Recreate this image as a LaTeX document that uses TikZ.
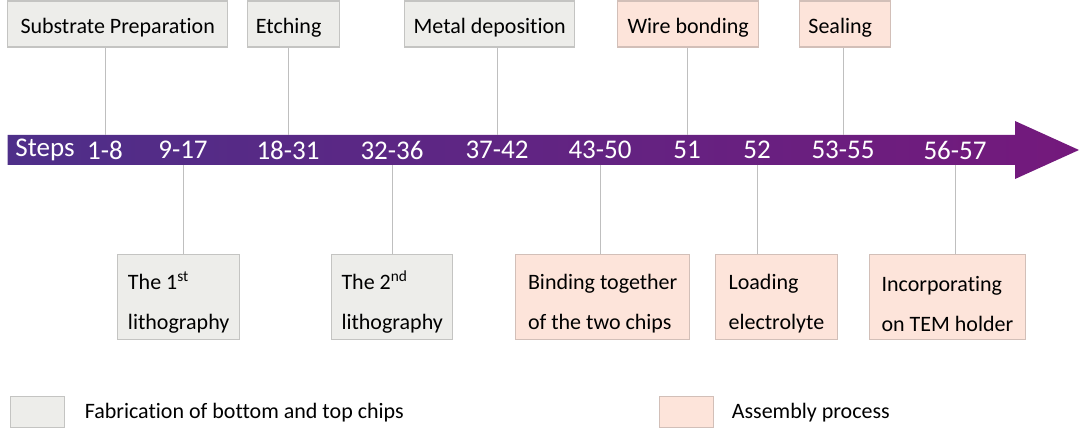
\documentclass[tikz,border=0pt]{standalone}
\usepackage{fontspec}
\setmainfont{Carlito}[Ligatures=CommonOff]
\usetikzlibrary{positioning,calc}
\definecolor{fabfill}{HTML}{EDEDEA}
\definecolor{fabline}{HTML}{C4C4C2}
\definecolor{asmfill}{HTML}{FDE4DA}
\definecolor{asmline}{HTML}{D2BFB8}
\definecolor{tickgray}{HTML}{BFBFBF}
\definecolor{barleft}{HTML}{4E2F89}
\definecolor{barright}{HTML}{74197C}
\newcommand{\boxlift}[1]{\rule{0pt}{#1}}

\begin{document}
\begin{tikzpicture}[x=0.5pt,y=-0.5pt,
  box/.style={draw,line width=0.7pt,anchor=north west,align=left,inner sep=0pt,font=\fontsize{11}{20}\selectfont},
  fab/.style={box,fill=fabfill,draw=fabline},
  asm/.style={box,fill=asmfill,draw=asmline},
  oneline/.style={minimum height=23pt},
  twoline/.style={minimum height=42.5pt},
  num/.style={text=white,inner sep=0pt,font=\fontsize{13.5}{15}\selectfont},
  tick/.style={draw=tickgray,line width=0.5pt}]
\useasboundingbox (0,0) rectangle (1080,438);

% Timeline arrow
\shade[left color=barleft,right color=barright] (7.5,135) -- (1015,135) -- (1015,121) -- (1079,150) -- (1015,179) -- (1015,165) -- (7.5,165) -- cycle;
\coordinate (bartop) at (0,135);
\coordinate (barbot) at (0,165);

\node[num] (steps) at (45,150) {Steps};
\node[num] (s1) at (105,150) {1-8};
\node[num] (s9) at (183,150) {9-17};
\node[num] (s18) at (288,150) {18-31};
\node[num] (s32) at (392,150) {32-36};
\node[num] (s37) at (497,150) {37-42};
\node[num] (s43) at (600,150) {43-50};
\node[num] (s51) at (687,150) {51};
\node[num] (s52) at (757,150) {52};
\node[num] (s53) at (843,150) {53-55};
\node[num] (s56) at (955,150) {56-57};

% Top boxes
\node[fab,oneline,minimum width=110pt] (sub) at (7,0.5) {\boxlift{11pt}Substrate Preparation};
\node[fab,oneline,minimum width=46pt] (etch) at (247,0.5) {\boxlift{11pt}Etching\hspace{5pt}};
\node[fab,oneline,minimum width=85pt] (metal) at (404,0.5) {\boxlift{11pt}Metal deposition};
\node[asm,oneline,minimum width=70.5pt] (wire) at (617,0.5) {\boxlift{11pt}Wire bonding};
\node[asm,oneline,minimum width=45.5pt] (seal) at (799,0.5) {\boxlift{11pt}Sealing\hspace{5pt}};

% Bottom boxes
\node[fab,twoline,minimum width=61pt] (lit1) at (117,254) {\boxlift{14pt}The 1\textsuperscript{st}\\lithography};
\node[fab,twoline,minimum width=60.5pt] (lit2) at (331,254) {\boxlift{14pt}The 2\textsuperscript{nd}\\lithography};
\node[asm,twoline,minimum width=87pt] (bind) at (515,254) {\boxlift{14pt}Binding together\\of the two chips};
\node[asm,twoline,minimum width=60.75pt] (load) at (715,254) {\boxlift{14pt}Loading\hspace{12pt}\\electrolyte};
\node[asm,twoline,minimum width=77.75pt] (incorp) at (869,254) {\boxlift{14pt}Incorporating\\on TEM holder};

% Connectors
\draw[tick] (s1 |- sub.south) -- (s1 |- bartop);
\draw[tick] (s18 |- etch.south) -- (s18 |- bartop);
\draw[tick] (s37 |- metal.south) -- (s37 |- bartop);
\draw[tick] (s51 |- wire.south) -- (s51 |- bartop);
\draw[tick] (s53 |- seal.south) -- (s53 |- bartop);
\draw[tick] (s9 |- barbot) -- (s9 |- lit1.north);
\draw[tick] (s32 |- barbot) -- (s32 |- lit2.north);
\draw[tick] (s43 |- barbot) -- (s43 |- bind.north);
\draw[tick] (s52 |- barbot) -- (s52 |- load.north);
\draw[tick] (s56 |- barbot) -- (s56 |- incorp.north);

% Legend
\node[fab,minimum width=27pt,minimum height=15.5pt] (fabkey) at (10,396) {};
\node[right=9.5pt of fabkey,inner sep=0pt,font=\fontsize{11}{13}\selectfont] (fabtext) {Fabrication of bottom and top chips};
\node[asm,minimum width=27pt,minimum height=15.5pt] (asmkey) at (659,396) {};
\node[right=8.5pt of asmkey,inner sep=0pt,font=\fontsize{11}{13}\selectfont] (asmtext) {Assembly process};
\end{tikzpicture}
\end{document}
